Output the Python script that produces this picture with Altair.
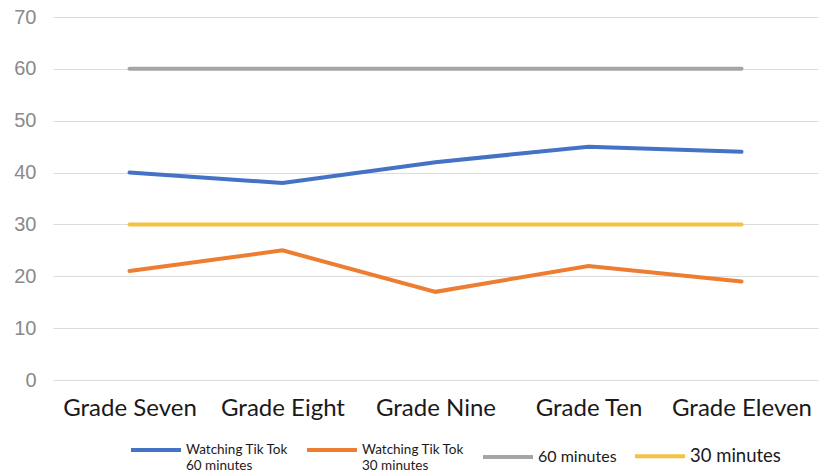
import altair as alt
import pandas as pd

grades = ["Grade Seven", "Grade Eight", "Grade Nine", "Grade Ten", "Grade Eleven"]
tiktok_60 = [40, 38, 42, 45, 44]
tiktok_30 = [21, 25, 17, 22, 19]
ref_60 = [60, 60, 60, 60, 60]
ref_30 = [30, 30, 30, 30, 30]

series_names = [
    "Watching Tik Tok|60 minutes",
    "Watching Tik Tok|30 minutes",
    "60 minutes",
    "30 minutes",
]
series_values = [tiktok_60, tiktok_30, ref_60, ref_30]
series_colors = ["#4472C4", "#ED7D31", "#A5A5A5", "#F5C143"]

rows = []
for name, vals in zip(series_names, series_values):
    for g, v in zip(grades, vals):
        rows.append({"Grade": g, "Value": v, "Series": name})
df = pd.DataFrame(rows)

chart = (
    alt.Chart(df)
    .mark_line(strokeWidth=4, strokeCap="round")
    .encode(
        x=alt.X(
            "Grade:N",
            sort=grades,
            scale=alt.Scale(type="point", padding=0.5),
            axis=alt.Axis(
                title=None,
                labelAngle=0,
                labelFont="Lato",
                labelFontSize=24,
                labelColor="#1a1a1a",
                labelPadding=16,
                ticks=False,
                domain=False,
                grid=False,
                gridOpacity=0,
            ),
        ),
        y=alt.Y(
            "Value:Q",
            scale=alt.Scale(domain=[0, 70], nice=False),
            axis=alt.Axis(
                title=None,
                values=[0, 10, 20, 30, 40, 50, 60, 70],
                labelFont="Liberation Sans",
                labelFontSize=20,
                labelColor="#8a8a8a",
                labelPadding=17,
                ticks=False,
                domain=False,
                domainOpacity=0,
                grid=True,
                gridColor="#DCDCDC",
                gridWidth=1,
            ),
        ),
        color=alt.Color(
            "Series:N",
            sort=series_names,
            scale=alt.Scale(domain=series_names, range=series_colors),
            legend=alt.Legend(
                title=None,
                orient="none",
                legendX=76,
                legendY=406,
                direction="horizontal",
                symbolType="stroke",
                symbolSize=2500,
                symbolStrokeWidth=4,
                labelFont="Lato",
                labelFontSize={"expr": "datum.index == 3 ? 18.5 : datum.index == 2 ? 16 : 13.5"},
                labelColor="#1a1a1a",
                labelExpr="split(datum.label, '|')",
                labelOffset=3,
                columnPadding=10,
            ),
        ),
    )
    .properties(
        width=765,
        height=363,
        padding={"left": 53, "top": 17, "right": 7, "bottom": 95},
        autosize=alt.AutoSizeParams(type="none"),
        background="white",
    )
    .configure_view(stroke="white", strokeOpacity=0, strokeWidth=0)
    .configure_axisX(grid=False, domain=False, ticks=False)
)

chart.save("out.html", embed_options={"renderer": "svg", "actions": False})
